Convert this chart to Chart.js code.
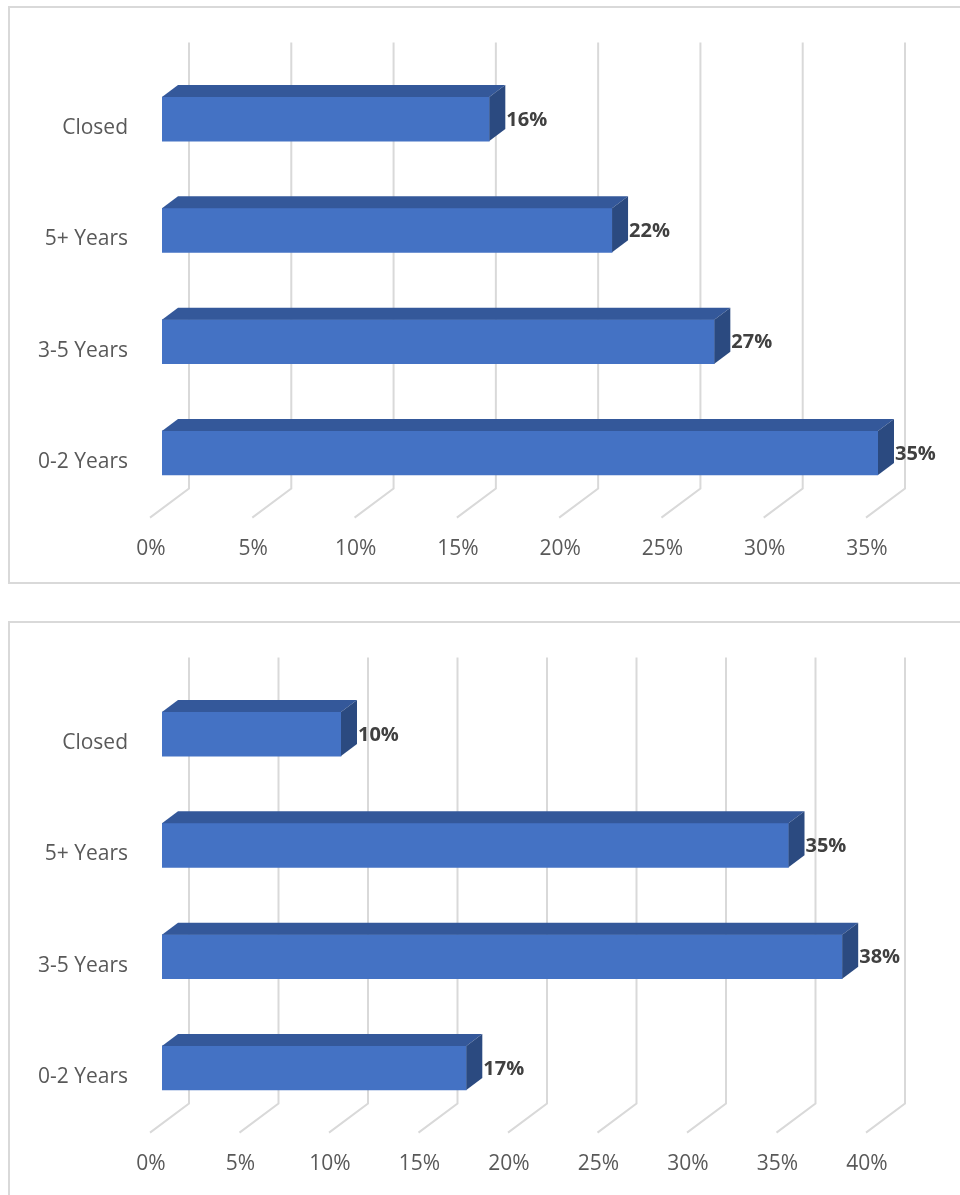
<!DOCTYPE html>
<html>
<head>
<meta charset="utf-8">
<script src="https://cdn.jsdelivr.net/npm/chart.js@4.4.1/dist/chart.umd.min.js"></script>
<style>
  html, body { margin: 0; padding: 0; background: #fff; overflow: hidden; }
  body { position: relative; width: 960px; height: 1195px; }
  .box { position: absolute; left: 8px; width: 990px; border: 2px solid #d9d9d9; box-sizing: border-box; }
  .wrap { position: absolute; left: 0; width: 960px; height: 580px; }
</style>
</head>
<body>
<div class="box" style="top:6px;height:578px"></div>
<div class="box" style="top:621px;height:620px"></div>
<div class="wrap" style="top:0"><canvas id="chartTop"></canvas></div>
<div class="wrap" style="top:615px"><canvas id="chartBottom"></canvas></div>
<script>
// categories, top to bottom
const categories = ['Closed', '5+ Years', '3-5 Years', '0-2 Years'];
// percentages per category
const valuesTop = [16, 22, 27, 35];
const valuesBottom = [10, 35, 38, 17];
// x-axis ticks
const ticksTop = [0, 5, 10, 15, 20, 25, 30, 35];
const ticksBottom = [0, 5, 10, 15, 20, 25, 30, 35, 40];

const FONT = '"Open Sans", "DejaVu Sans", sans-serif';
const DX = 16, DY = 12;          // bar depth offset
const FLOOR_DX = 39, FLOOR_DY = 29; // floor depth

// fake 3D: back wall gridlines + floor, then top/side faces of each bar
const bars3d = {
  id: 'bars3d',
  beforeDatasetsDraw(chart) {
    const { ctx, chartArea, scales: { x } } = chart;
    const top = chartArea.top - 21;
    const floorY = chartArea.bottom - 20;
    ctx.save();
    ctx.strokeStyle = '#d9d9d9';
    ctx.lineWidth = 2;
    x.ticks.forEach(t => {
      const xb = x.getPixelForValue(t.value) + 27;
      ctx.beginPath();
      ctx.moveTo(xb, top);
      ctx.lineTo(xb, floorY);
      ctx.lineTo(xb - FLOOR_DX, floorY + FLOOR_DY);
      ctx.stroke();
    });
    ctx.restore();
  },
  afterDatasetsDraw(chart) {
    const ctx = chart.ctx;
    const data = chart.data.datasets[0].data;
    ctx.save();
    chart.getDatasetMeta(0).data.forEach((bar, i) => {
      const { x, y, base, height } = bar.getProps(['x', 'y', 'base', 'height'], true);
      const t = y - height / 2, b = y + height / 2;
      ctx.fillStyle = '#34589a';
      ctx.beginPath();
      ctx.moveTo(base, t);
      ctx.lineTo(x, t);
      ctx.lineTo(x + DX, t - DY);
      ctx.lineTo(base + DX, t - DY);
      ctx.closePath();
      ctx.fill();
      ctx.fillStyle = '#2b4a80';
      ctx.beginPath();
      ctx.moveTo(x, t);
      ctx.lineTo(x + DX, t - DY);
      ctx.lineTo(x + DX, b - DY);
      ctx.lineTo(x, b);
      ctx.closePath();
      ctx.fill();
      ctx.fillStyle = '#404040';
      ctx.font = 'bold 20px ' + FONT;
      ctx.textAlign = 'left';
      ctx.textBaseline = 'middle';
      ctx.fillText(data[i] + '%', x + DX + 1, y + 1);
    });
    ctx.restore();
  }
};

function makeChart(id, values, ticks) {
  const step = ticks[1] - ticks[0];
  return new Chart(document.getElementById(id), {
    type: 'bar',
    data: {
      labels: categories,
      datasets: [{
        data: values,
        backgroundColor: '#4472c4',
        barThickness: 44
      }]
    },
    options: {
      indexAxis: 'y',
      responsive: true,
      maintainAspectRatio: false,
      animation: false,
      layout: { padding: { left: 0, right: 82, top: 63.4, bottom: 11.4 } },
      plugins: { legend: { display: false }, tooltip: { enabled: false } },
      scales: {
        x: {
          min: ticks[0],
          max: ticks[ticks.length - 1],
          afterFit(scale) { scale.height = 60; },
          afterBuildTicks(scale) { scale.ticks = ticks.map(v => ({ value: v })); },
          grid: { display: false, drawTicks: false },
          border: { display: false },
          ticks: {
            stepSize: step,
            padding: 28,
            labelOffset: -11,
            color: '#595959',
            font: { family: FONT, size: 21 },
            callback: v => v + '%'
          }
        },
        y: {
          afterFit(scale) { scale.width = 162; },
          grid: { display: false, drawTicks: false },
          border: { display: false },
          ticks: {
            padding: 34,
            labelOffset: 9,
            color: '#595959',
            font: { family: FONT, size: 21 }
          }
        }
      }
    },
    plugins: [bars3d]
  });
}

makeChart('chartTop', valuesTop, ticksTop);
makeChart('chartBottom', valuesBottom, ticksBottom);
</script>
</body>
</html>
